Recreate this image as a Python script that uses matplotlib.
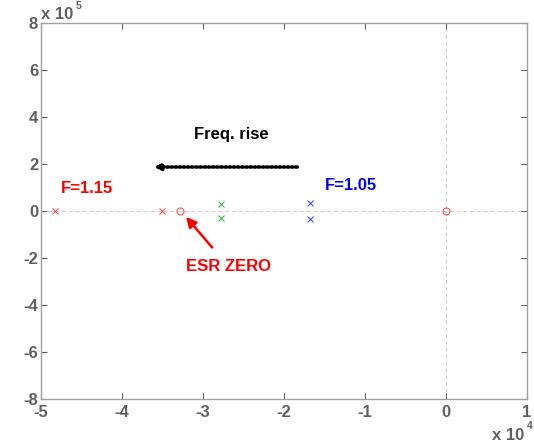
import matplotlib.pyplot as plt

plt.rcParams['font.family'] = ['Liberation Sans', 'DejaVu Sans']

# pole / zero positions (real, imag)
red_poles_re = [-4.83e4, -3.51e4]
red_poles_im = [0, 0]
red_zeros_re = [-3.28e4, 0]
red_zeros_im = [0, 0]
green_poles_re = [-2.78e4, -2.78e4]
green_poles_im = [0.3e5, -0.3e5]
blue_poles_re = [-1.68e4, -1.68e4]
blue_poles_im = [0.35e5, -0.35e5]

gray = '#606060'

fig = plt.figure(figsize=(5.34, 4.45), dpi=100)
ax = fig.add_axes([0.0768, 0.1034, 0.910, 0.845])

ax.axhline(0, color='#cccccc', ls=(0, (4, 3)), lw=0.7, zorder=0)
ax.axvline(0, color='#cccccc', ls=(0, (4, 3)), lw=0.7, zorder=0)

ax.plot(red_poles_re, red_poles_im, 'x', color='#ff5050', ms=5, mew=0.8, ls='none')
ax.plot(red_zeros_re, red_zeros_im, 'o', mfc='none', mec='#ff5050', ms=5, mew=0.8, ls='none')
ax.plot(green_poles_re, green_poles_im, 'x', color='#40b040', ms=5, mew=0.8, ls='none')
ax.plot(blue_poles_re, blue_poles_im, 'x', color='#5050ff', ms=5, mew=0.8, ls='none')

ax.set_xlim(-5e4, 1e4)
ax.set_ylim(-8e5, 8e5)
ax.set_xticks([-5e4, -4e4, -3e4, -2e4, -1e4, 0, 1e4])
ax.set_xticklabels(['-5', '-4', '-3', '-2', '-1', '0', '1'])
ax.set_yticks([-8e5, -6e5, -4e5, -2e5, 0, 2e5, 4e5, 6e5, 8e5])
ax.set_yticklabels(['-8', '-6', '-4', '-2', '0', '2', '4', '6', '8'])
ax.tick_params(direction='in', top=True, right=True, length=4, width=0.8,
               color=gray, labelcolor=gray, labelsize=12)
ax.tick_params(axis='x', pad=4)
ax.tick_params(axis='y', pad=2)
for lab in ax.get_xticklabels() + ax.get_yticklabels():
    lab.set_fontweight('bold')
for s in ax.spines.values():
    s.set_color('#a0a0a0')
    s.set_linewidth(1.0)

# annotations
ax.text(-2.65e4, 3.25e5, 'Freq. rise', fontsize=12, fontweight='bold', ha='center', va='center')
ax.annotate('', xy=(-3.64e4, 1.87e5), xytext=(-1.8e4, 1.87e5),
            arrowprops=dict(arrowstyle='-|>', color='black', lw=2.5, ls=(0, (0.5, 0.7)),
                            mutation_scale=9))
ax.text(-4.75e4, 0.95e5, 'F=1.15', color='red', fontsize=12, fontweight='bold', va='center')
ax.text(-1.5e4, 1.1e5, 'F=1.05', color='blue', fontsize=12, fontweight='bold', va='center')
ax.annotate('ESR ZERO', xy=(-3.21e4, -0.25e5), xytext=(-2.69e4, -2.35e5),
            color='red', fontsize=12, fontweight='bold', ha='center', va='center',
            arrowprops=dict(arrowstyle='-|>', color='red', lw=1.8, mutation_scale=15,
                            shrinkA=8, shrinkB=0))

# exponent labels
fig.text(0.077, 0.968, 'x 10', color=gray, fontsize=12, fontweight='bold', va='center')
fig.text(0.142, 0.986, '5', color=gray, fontsize=7.5, fontweight='bold', va='center')
fig.text(0.922, 0.022, 'x 10', color=gray, fontsize=12, fontweight='bold', va='center')
fig.text(0.987, 0.042, '4', color=gray, fontsize=7.5, fontweight='bold', va='center')

fig.savefig('out.png', dpi=100)
